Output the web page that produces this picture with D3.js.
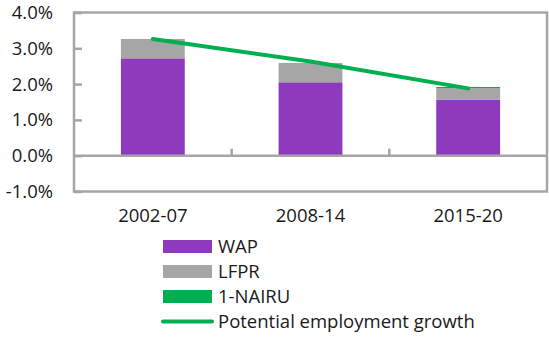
<!DOCTYPE html>
<html>
<head>
<meta charset="utf-8">
<script src="https://cdn.jsdelivr.net/npm/d3@7/dist/d3.min.js"></script>
<style>
  html, body { margin: 0; padding: 0; background: #fff; }
  svg { display: block; font-family: "Open Sans", sans-serif; }
</style>
</head>
<body>
<svg id="chart" width="549" height="337"></svg>
<script>
// Contributions to potential employment growth (percentage points)
const periods = ["2002-07", "2008-14", "2015-20"];
const wap = [2.72, 2.05, 1.56];
const lfpr = [0.54, 0.54, 0.33];
const nairu = [-0.03, -0.03, 0.03];
const potential = [3.26, 2.63, 1.88];
const yTicks = [-1, 0, 1, 2, 3, 4];

const series = [
  { key: "WAP", label: "WAP", color: "#8e3abd", values: wap },
  { key: "LFPR", label: "LFPR", color: "#a6a6a6", values: lfpr },
  { key: "NAIRU", label: "1-NAIRU", color: "#00b050", values: nairu }
];
const lineColor = "#00b050";
const axisColor = "#a6a6a6";
const textColor = "#1a1a1a";
const fontSize = "18.5px";

const svg = d3.select("#chart");
const plot = { left: 74, right: 547, top: 12.5, bottom: 191.5 };

const x = d3.scaleBand()
  .domain(periods)
  .range([plot.left, plot.right])
  .paddingInner(0.595)
  .paddingOuter(0.2975);

const y = d3.scaleLinear()
  .domain([-1, 4])
  .range([plot.bottom, plot.top]);

// Table rows for the stack layout
const rows = periods.map((p, i) => {
  const r = { period: p };
  series.forEach(s => { r[s.key] = s.values[i]; });
  return r;
});
const stacked = d3.stack()
  .keys(series.map(s => s.key))
  .offset(d3.stackOffsetDiverging)(rows);

// Plot frame
svg.append("rect")
  .attr("x", plot.left).attr("y", plot.top)
  .attr("width", plot.right - plot.left)
  .attr("height", plot.bottom - plot.top)
  .attr("fill", "none")
  .attr("stroke", axisColor)
  .attr("stroke-width", 2.5);

// Value axis: labels on the left, ticks pointing into the plot
const yAxis = svg.append("g")
  .attr("transform", `translate(${plot.left},0)`)
  .call(d3.axisLeft(y)
    .tickValues(yTicks)
    .tickSizeInner(-8)
    .tickSizeOuter(0)
    .tickPadding(21)
    .tickFormat(d => d.toFixed(1) + "%"));
yAxis.select(".domain").remove();
yAxis.selectAll("line").attr("stroke", axisColor).attr("stroke-width", 2.5);
yAxis.selectAll("text")
  .attr("fill", textColor)
  .style("font-size", fontSize)
  .style("font-family", "'Open Sans', sans-serif");

// Stacked bars
const layers = svg.append("g").selectAll("g")
  .data(stacked)
  .join("g")
  .attr("fill", (d, i) => series[i].color);
layers.selectAll("rect")
  .data(d => d)
  .join("rect")
  .attr("x", d => x(d.data.period))
  .attr("width", x.bandwidth())
  .attr("y", d => y(Math.max(d[0], d[1])))
  .attr("height", d => Math.abs(y(d[0]) - y(d[1])));

// Category axis along the zero line
svg.append("line")
  .attr("x1", plot.left).attr("x2", plot.right)
  .attr("y1", y(0)).attr("y2", y(0))
  .attr("stroke", axisColor).attr("stroke-width", 2.5);
const dividers = periods.slice(1).map((p, i) =>
  (x(periods[i]) + x.bandwidth() + x(p)) / 2);
svg.append("g").selectAll("line")
  .data(dividers)
  .join("line")
  .attr("x1", d => d).attr("x2", d => d)
  .attr("y1", y(0)).attr("y2", y(0) - 7)
  .attr("stroke", axisColor).attr("stroke-width", 2.5);

// Category labels below the plot
const xAxis = svg.append("g")
  .attr("transform", `translate(0,${plot.bottom})`)
  .call(d3.axisBottom(x).tickSize(0).tickPadding(17));
xAxis.select(".domain").remove();
xAxis.selectAll("text")
  .attr("fill", textColor)
  .style("font-size", fontSize)
  .style("font-family", "'Open Sans', sans-serif");

// Potential employment growth line
const line = d3.line()
  .x((d, i) => x(periods[i]) + x.bandwidth() / 2)
  .y(d => y(d));
svg.append("path")
  .datum(potential)
  .attr("d", line)
  .attr("fill", "none")
  .attr("stroke", lineColor)
  .attr("stroke-width", 4)
  .attr("stroke-linecap", "round");

// Legend
const legend = svg.append("g").attr("transform", "translate(163,240)");
const legendItems = series.map(s => ({ label: s.label, color: s.color, type: "rect" }))
  .concat([{ label: "Potential employment growth", color: lineColor, type: "line" }]);
const item = legend.selectAll("g")
  .data(legendItems)
  .join("g")
  .attr("transform", (d, i) => `translate(0,${i * 25})`);
item.filter(d => d.type === "rect").append("rect")
  .attr("x", 0).attr("y", 0)
  .attr("width", 49).attr("height", 13)
  .attr("fill", d => d.color);
item.filter(d => d.type === "line").append("line")
  .attr("x1", 0).attr("x2", 49)
  .attr("y1", 6.5).attr("y2", 6.5)
  .attr("stroke", d => d.color)
  .attr("stroke-width", 4)
  .attr("stroke-linecap", "round");
item.append("text")
  .attr("x", 55).attr("y", 6.5)
  .attr("dy", "0.35em")
  .attr("fill", textColor)
  .style("font-size", fontSize)
  .text(d => d.label);
</script>
</body>
</html>
